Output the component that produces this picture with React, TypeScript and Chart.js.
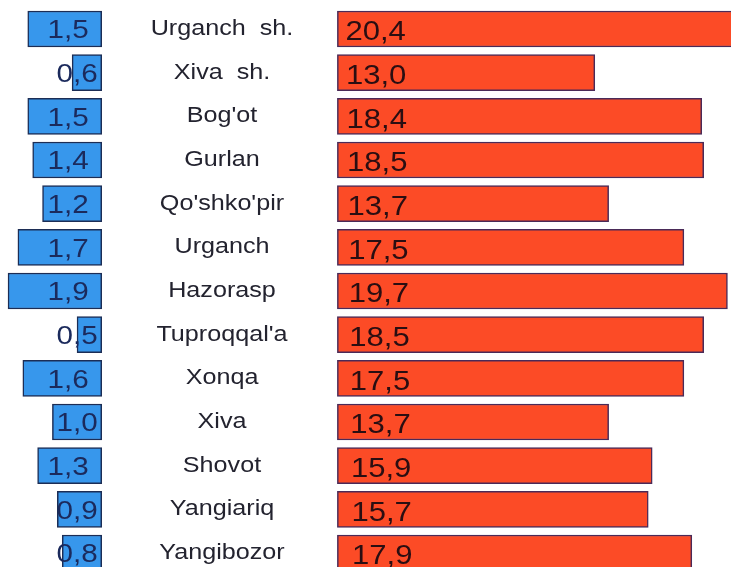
import React, { useEffect, useRef } from "react";
import { Chart, registerables } from "chart.js";

Chart.register(...registerables);

const districts = [
  "Urganch  sh.",
  "Xiva  sh.",
  "Bog'ot",
  "Gurlan",
  "Qo'shko'pir",
  "Urganch",
  "Hazorasp",
  "Tuproqqal'a",
  "Xonqa",
  "Xiva",
  "Shovot",
  "Yangiariq",
  "Yangibozor",
];
const blueValues = [1.5, 0.6, 1.5, 1.4, 1.2, 1.7, 1.9, 0.5, 1.6, 1.0, 1.3, 0.9, 0.8];
const redValues = [20.4, 13.0, 18.4, 18.5, 13.7, 17.5, 19.7, 18.5, 17.5, 13.7, 15.9, 15.7, 17.9];

const FONT = "'Liberation Sans', Arial, sans-serif";

const fmt = (v: number) => v.toFixed(1).replace(".", ",");

const textPlugin = {
  id: "textPlugin",
  afterDatasetsDraw(chart: any) {
    const ctx = chart.ctx as CanvasRenderingContext2D;
    const y = chart.scales.y;
    const xb = chart.scales.xb;
    const xr = chart.scales.xr;
    const blueEnd = xb.getPixelForValue(0);
    const redStart = xr.getPixelForValue(0);
    const drawStretched = (
      text: string,
      x: number,
      yy: number,
      align: CanvasTextAlign,
      size: number,
      sx: number,
      color: string
    ) => {
      ctx.save();
      ctx.translate(x, yy);
      ctx.scale(sx, 1);
      ctx.font = `${size}px ${FONT}`;
      ctx.fillStyle = color;
      ctx.textAlign = align;
      ctx.textBaseline = "middle";
      ctx.fillText(text, 0, 0);
      ctx.restore();
    };
    districts.forEach((name, i) => {
      const cy = y.getPixelForValue(i);
      // category label
      drawStretched(name, 222, cy, "center", 21.5, 1.17, "#23232f");
      // blue value
      const bv = blueValues[i];
      const bx = bv <= 1.0 ? blueEnd - 4 : blueEnd - 13;
      drawStretched(fmt(bv), bx, cy + 2, "right", 26, 1.14, "#1b2a5c");
      // red value
      drawStretched(fmt(redValues[i]), redStart + 8 + i * 0.55, cy + 4, "left", 27, 1.15, "#2a0e12");
    });
  },
};

export default function App() {
  const ref = useRef<HTMLCanvasElement | null>(null);

  useEffect(() => {
    document.body.style.margin = "0";
    document.body.style.background = "#ffffff";
    if (!ref.current) return;
    const chart = new Chart(ref.current, {
      type: "bar",
      data: {
        labels: districts,
        datasets: [
          {
            label: "blue",
            data: blueValues,
            xAxisID: "xb",
            yAxisID: "y",
            backgroundColor: "#3797ec",
            borderColor: "#1c2d55",
            borderWidth: 1.5,
            borderSkipped: false,
            barThickness: 36,
            grouped: false,
            clip: false,
          } as any,
          {
            label: "red",
            data: redValues,
            xAxisID: "xr",
            yAxisID: "y",
            backgroundColor: "#fc4b26",
            borderColor: "#4a2a58",
            borderWidth: 1.5,
            borderSkipped: false,
            barThickness: 36,
            grouped: false,
            clip: false,
          } as any,
        ],
      },
      options: {
        indexAxis: "y",
        responsive: false,
        animation: false,
        layout: { padding: { top: 29, bottom: 14, left: 0, right: 0 } },
        plugins: {
          legend: { display: false },
          tooltip: { enabled: false },
          title: { display: false },
        },
        scales: {
          y: {
            type: "category",
            offset: false,
            display: false,
            grid: { display: false },
          },
          xb: {
            type: "linear",
            axis: "x",
            reverse: true,
            min: -12.765,
            max: 2.063,
            display: false,
            grid: { display: false },
          },
          xr: {
            type: "linear",
            axis: "x",
            min: -17.04,
            max: 19.88,
            display: false,
            grid: { display: false },
          },
        } as any,
      },
      plugins: [textPlugin],
    });
    return () => chart.destroy();
  }, []);

  return (
    <div style={{ width: 731, height: 567, background: "#fff" }}>
      <canvas ref={ref} width={731} height={567} style={{ display: "block" }} />
    </div>
  );
}
